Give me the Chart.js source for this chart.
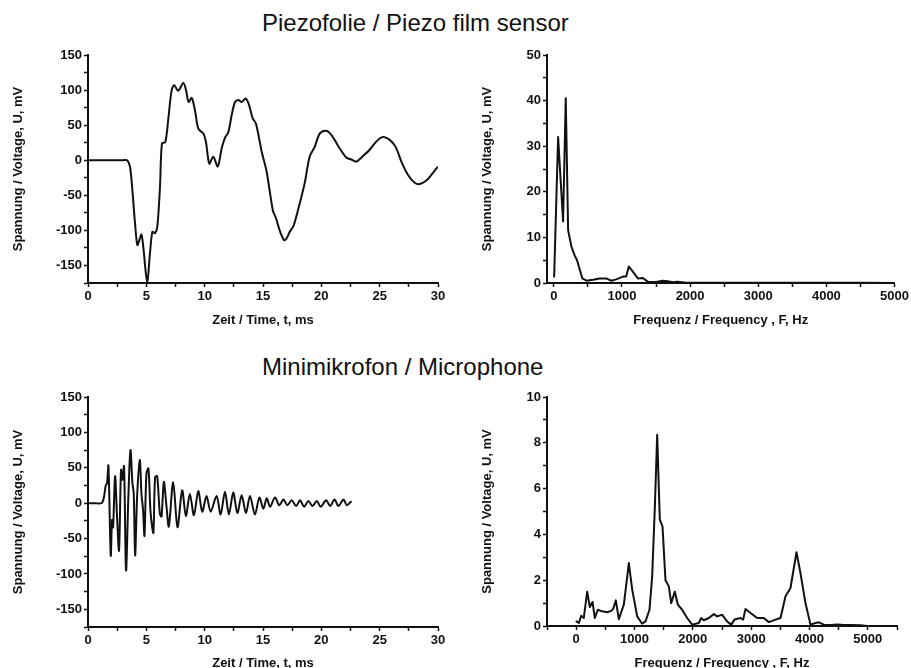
<!DOCTYPE html>
<html><head><meta charset="utf-8">
<script src="https://cdn.jsdelivr.net/npm/chart.js@4.4.0/dist/chart.umd.min.js"></script>
<style>
html,body{margin:0;padding:0;background:#fff;overflow:hidden;width:911px;height:668px;}
.t{position:absolute;left:262px;font:24px "Liberation Sans",Arial,sans-serif;color:#111;white-space:nowrap;line-height:24px;}
canvas{position:absolute;}
</style></head><body>
<div class="t" style="top:11px">Piezofolie / Piezo film sensor</div>
<div class="t" style="top:355px">Minimikrofon / Microphone</div>
<canvas id="c1" width="455" height="290" style="left:0;top:40px;width:455px;height:290px"></canvas>
<canvas id="c2" width="456" height="290" style="left:455px;top:40px;width:456px;height:290px"></canvas>
<canvas id="c3" width="455" height="300" style="left:0;top:380px;width:455px;height:300px"></canvas>
<canvas id="c4" width="456" height="300" style="left:455px;top:380px;width:456px;height:300px"></canvas>
<script>
// ---- data ----
const piezoTime = [0,1,2,3,3.35,3.6,3.83,4.03,4.23,4.4,4.58,4.74,5.07,5.31,5.52,5.74,5.94,6.17,6.34,6.63,6.89,7.17,7.4,7.72,8.17,8.4,8.62,8.89,9.17,9.46,9.89,10.11,10.4,10.74,11.12,11.46,11.74,12.03,12.31,12.6,12.89,13.17,13.51,13.8,14.11,14.4,14.89,15.31,15.85,16.1,16.43,16.8,17.0,17.29,17.63,18.14,18.57,19.0,19.43,19.86,20.37,20.71,21.14,21.57,22.14,22.57,23.0,23.57,24.14,24.57,25.0,25.34,25.86,26.37,26.86,27.43,28.0,28.43,29.0,29.43,29.94];
const piezoVolt = [0,0,0,0,0,-9,-48,-90,-121,-114,-106,-124,-173,-133,-102,-104,-95,-38,24,26,60,100,107,99,110,100,83,89,71,45,38,26,-5,5,-9,17,32,40,64,83,86,83,88,79,60,52,12,-16,-72,-82,-100,-114,-112,-102,-93,-62,-33,5,19,38,42,39,29,17,4,1,-2,6,15,24,31,33,29,19,-2,-21,-32,-34,-29,-21,-10];

const piezoFreq = [5,63,136,175,210,258,307,341,419,478,575,673,770,843,916,1014,1062,1101,1160,1233,1306,1379,1501,1598,1671,1745,1818,1940,2500,3000,3500,4000,4500,5000];
const piezoAmp = [1.4,32,13.5,40.5,11.6,8,6,5,1,0.5,0.7,1.0,1.0,0.5,0.8,1.4,1.4,3.6,2.5,1.0,1.1,0.3,0.2,0.5,0.4,0.15,0.3,0.05,0.03,0.05,0.03,0.03,0.03,0.02];

const micTime = [0,0.5,1.15,1.35,1.52,1.63,1.75,1.95,2.06,2.15,2.32,2.49,2.66,2.83,2.95,3.09,3.26,3.46,3.64,3.81,3.92,4.04,4.21,4.44,4.58,4.72,4.84,5.01,5.18,5.35,5.5,5.61,5.75,5.93,6.16,6.3,6.5,6.73,6.93,7.3,7.67,8.07,8.39,8.73,9.08,9.45,9.79,10.16,10.51,11.02,11.37,11.74,12.08,12.45,12.8,13.17,13.54,13.88,14.31,14.69,15.03,15.32,15.6,16.03,16.4,16.75,17.09,17.46,17.84,18.18,18.52,18.89,19.24,19.61,19.95,20.41,20.76,21.13,21.47,21.9,22.19,22.53];
const micVolt = [0,0,0,7,25,28,53,-74,-24,-34,38,-19,-67,47,33,52,-95,9,75,28,14,-74,9,61,14,-10,-46,42,49,-10,-34,-42,37,38,-15,-19,30,-5,-33,30,-34,18,-18,13,-17,17,-12,10,-12,10,-16,16,-16,15,-14,11,-14,10,-16,8,-8,7,-5,8,-3,5,-3,4,-4,4,-5,3,-4,3,-5,4,-4,5,-4,5,-3,2];

const micFreq = [6,46,86,131,189,234,280,320,371,446,531,600,634,680,731,817,903,960,1046,1131,1189,1257,1303,1349,1389,1411,1434,1480,1531,1589,1629,1691,1743,1817,1903,1989,2103,2143,2189,2274,2360,2417,2503,2589,2657,2714,2817,2863,2903,2989,3103,3217,3303,3417,3503,3589,3674,3777,3846,3931,4017,4103,4160,4246,4360,4474,4589,4703,4874,4960];
const micAmp = [0.2,0.13,0.45,0.35,1.5,0.83,1.05,0.35,0.71,0.64,0.6,0.66,0.74,1.12,0.3,0.93,2.75,1.6,0.42,0.1,0.2,0.71,2.17,5.2,8.35,6.5,4.65,4.35,2.0,1.73,1.0,1.5,0.93,0.71,0.35,0.06,0.13,0.35,0.25,0.35,0.52,0.42,0.49,0.2,0.06,0.28,0.35,0.28,0.74,0.57,0.35,0.35,0.17,0.28,0.35,1.3,1.66,3.22,2.3,1.0,0.06,0.13,0.16,0.06,0.04,0.07,0.04,0.04,0.03,0.01];

const timeTickLabels = [0,5,10,15,20,25,30];
const voltTickLabels = [-150,-100,-50,0,50,100,150];
const freqTickLabels = [0,1000,2000,3000,4000,5000];
const piezoAmpTickLabels = [0,10,20,30,40,50];
const micAmpTickLabels = [0,2,4,6,8,10];

const xTitleTime = 'Zeit / Time, t, ms';
const xTitleFreq = 'Frequenz / Frequency , F, Hz';
const yTitle = 'Spannung / Voltage, U, mV';

// ---- chart builder ----
const FONT = '"Liberation Sans", Arial, Helvetica, sans-serif';
const INK = '#111';

function axis(cfg, isX) {
  return {
    type: 'linear',
    min: cfg.min, max: cfg.max,
    afterBuildTicks: (s) => {
      const vals = [];
      let v = Math.ceil(cfg.min / cfg.minor) * cfg.minor;
      for (; v <= cfg.max + 1e-9; v += cfg.minor) vals.push({value: +v.toFixed(6)});
      s.ticks = vals;
    },
    afterFit: (s) => { if (isX) s.height = cfg.size; else s.width = cfg.size; },
    ticks: {
      autoSkip: false, maxRotation: 0, minRotation: 0,
      padding: 2,
      color: INK,
      font: {family: FONT, size: 13, weight: 'bold'},
      callback: (val) => cfg.labels.includes(val) ? String(val) : ''
    },
    grid: {display: true, drawOnChartArea: false, drawTicks: true, tickLength: 4, tickWidth: 1.5, tickColor: INK},
    border: {display: true, color: INK, width: 2},
    title: {
      display: true, text: cfg.title, color: INK,
      font: {family: FONT, size: 13, weight: 'bold'},
      padding: isX ? {top: 0, bottom: cfg.titlePad} : {top: cfg.titlePad, bottom: 0}
    }
  };
}

function makeChart(id, xs, ys, tension, xCfg, yCfg, pad) {
  const pts = xs.map((x, i) => ({x: x, y: ys[i]}));
  return new Chart(document.getElementById(id), {
    type: 'line',
    data: {datasets: [{data: pts, borderColor: INK, borderWidth: 2, pointRadius: 0, fill: false, tension: tension, borderJoinStyle: 'round', borderCapStyle: 'round'}]},
    options: {
      responsive: false, animation: false,
      layout: {padding: pad},
      plugins: {legend: {display: false}, tooltip: {enabled: false}},
      scales: {x: axis(xCfg, true), y: axis(yCfg, false)}
    }
  });
}

makeChart('c1', piezoTime, piezoVolt, 0.3,
  {min: 0, max: 30, minor: 2.5, labels: timeTickLabels, title: xTitleTime, size: 47, titlePad: 2},
  {min: -175, max: 150, minor: 25, labels: voltTickLabels, title: yTitle, size: 88, titlePad: 11},
  {top: 15, right: 17, left: 0, bottom: 0});

makeChart('c2', piezoFreq, piezoAmp, 0,
  {min: -100, max: 5000, minor: 500, labels: freqTickLabels, title: xTitleFreq, size: 47, titlePad: 2},
  {min: 0, max: 50, minor: 5, labels: piezoAmpTickLabels, title: yTitle, size: 92, titlePad: 25},
  {top: 15, right: 15, left: 0, bottom: 0});

makeChart('c3', micTime, micVolt, 0.3,
  {min: 0, max: 30, minor: 2.5, labels: timeTickLabels, title: xTitleTime, size: 53, titlePad: 9},
  {min: -175, max: 150, minor: 25, labels: voltTickLabels, title: yTitle, size: 88, titlePad: 11},
  {top: 17, right: 17, left: 0, bottom: 0});

makeChart('c4', micFreq, micAmp, 0,
  {min: -500, max: 5500, minor: 500, labels: freqTickLabels, title: xTitleFreq, size: 54, titlePad: 9},
  {min: 0, max: 10, minor: 1, labels: micAmpTickLabels, title: yTitle, size: 92, titlePad: 25},
  {top: 17, right: 14, left: 0, bottom: 0});
</script>
</body></html>
